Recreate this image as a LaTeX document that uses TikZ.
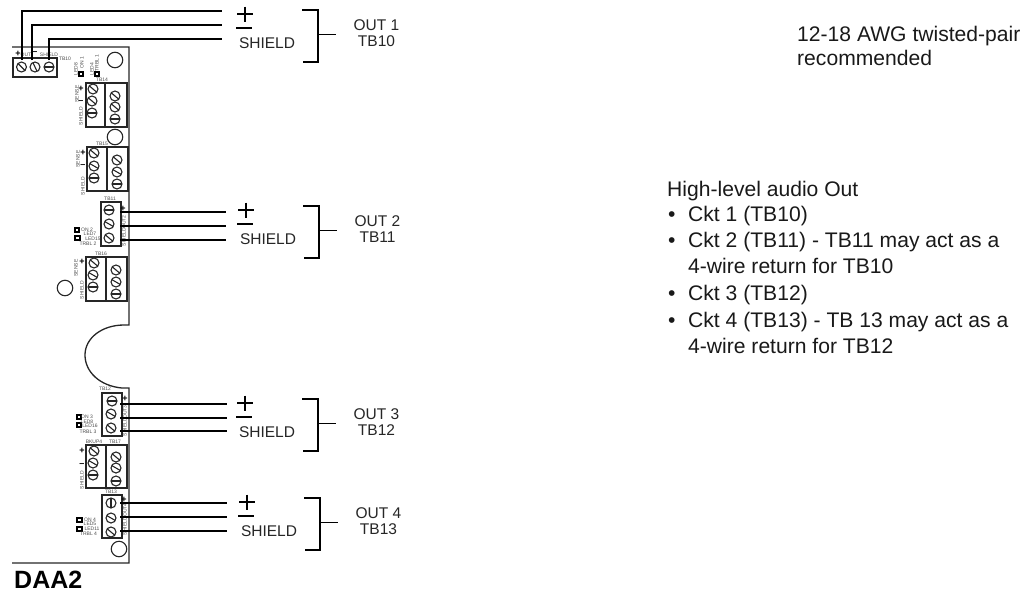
\documentclass[tikz,border=0pt]{standalone}
\usepackage{fontspec}
\setmainfont{Liberation Sans}
\usepackage{tikz}
\usetikzlibrary{calc}

\newcommand{\screw}[3]{%
  \draw[screwline] (#1,#2) circle (5);
  \draw[screwline] ($(#1,#2)+(#3:5)$) -- ($(#1,#2)+(#3+180:5)$);
}

\tikzset{
  boardline/.style={black!85, line width=1.3pt},
  blockbox/.style={draw=black!85, line width=1.5pt, inner sep=0pt},
  screwline/.style={black!85, line width=1.1pt},
  wire/.style={black, line width=2pt},
  hole/.style={draw=black!85, line width=1.1pt, circle, inner sep=0pt, minimum size=15.5pt},
  led/.style={draw=black, line width=1.6pt, inner sep=0pt, minimum size=4.5pt},
  tiny label/.style={inner sep=0pt, text=black!70, font=\fontsize{5}{5.5}\selectfont},
  out text/.style={inner sep=0pt, text=black!85, font=\fontsize{15.5}{16}\selectfont},
  note text/.style={inner sep=0pt, anchor=base west, text=black!90, font=\fontsize{21.1}{24}\selectfont},
  mark line/.style={black, line width=1.2pt},
  bracket/.style={black, line width=1.3pt},
}

\begin{document}
\begin{tikzpicture}[x=1pt, y=-1pt]
        \useasboundingbox (0,0) rectangle (1033,595);

        % board outline
        \draw[boardline] (12,47) -- (129,47) -- (129,325) -- (124,325)
            .. controls (102,325) and (85,338) .. (85,355)
            .. controls (85,372) and (100,386) .. (122,388) -- (129,388)
            -- (129,563) -- (12,563);

        % terminal blocks
        \node[blockbox, minimum width=44pt, minimum height=19pt] (tb10) at (35,67.5) {};
        \node[blockbox, minimum width=41pt, minimum height=44pt] (tb14) at (106.5,105) {};
        \node[blockbox, minimum width=41pt, minimum height=44pt] (tb15) at (107.5,169) {};
        \node[blockbox, minimum width=20pt, minimum height=44pt] (tb11) at (111,224) {};
        \node[blockbox, minimum width=41pt, minimum height=44pt] (tb16) at (106.5,279) {};
        \node[blockbox, minimum width=20pt, minimum height=43pt] (tb12) at (112,414.5) {};
        \node[blockbox, minimum width=41pt, minimum height=43pt] (tb17) at (106.5,466.5) {};
        \node[blockbox, minimum width=20pt, minimum height=43pt] (tb13) at (112,516.5) {};

        \draw[boardline] (tb14.north) ++(-1.5,0) -- ++(0,44);
        \draw[boardline] (tb15.north) ++(-0.5,0) -- ++(0,44);
        \draw[boardline] (tb16.north) ++(-0.5,0) -- ++(0,44);
        \draw[boardline] (tb17.north) ++(-0.5,0) -- ++(0,43);

        % screws
        \foreach \x/\y/\a in {21.5/67/45, 35/67/65, 49/67/0,
            93/89/40, 92/101/40, 92/113/0, 115/96/40, 115/107/40, 115/119/0,
            94/153/40, 94/166/30, 94/178/0, 117/160/40, 117/172/30, 117/184/0,
            109/210/0, 109/224/30, 109/238/40,
            94/263/40, 93/275/30, 93/287/0, 116/270/40, 116/282/30, 116/294/0,
            112/401/0, 111/414/30, 111/428/40,
            94/451/40, 93/463/30, 93/475/0, 116/457/40, 116/468/30, 116/481/0,
            111/503/90, 111/518/30, 111/532/40}
            {\screw{\x}{\y}{\a}}

        % mounting holes
        \node[hole] (hole1) at (115,60) {};
        \node[hole] (hole2) at (115,137) {};
        \node[hole] (hole3) at (65,288) {};
        \node[hole] (hole4) at (119,549) {};

        % LEDs
        \foreach \n/\x/\y in {a/81/74, b/97/74, c/77/230, d/77.5/238, e/79/417, f/79/425, g/79.5/520, h/79.5/529}
            {\node[led] (led\n) at (\x,\y) {};}

        % tiny labels
        \foreach \n/\x/\y/\t in {a/26/54.5/OUT, b/49/54.5/SHIELD, c/65/59/TB10, d/102/80/TB14, e/102/144/TB15,
            f/110/199/TB11, g/101/254/TB16, h/105/389/TB12, i/94/442/BKUP4, j/115/442/TB17, k/111/492/TB13,
            l/87/229.5/ON 2, m/90/234/LED7, n/93/238.5/LED15, o/88/244/TRBL 2,
            p/87/417/ON 3, q/87/421.5/LED8, r/90/426/LED16, s/88/431.5/TRBL 3,
            t/90/519.5/ON 4, u/90/524/LED5, v/92/528.5/LED11, w/88.5/534/TRBL 4}
            {\node[tiny label] (lab\n) at (\x,\y) {\t};}

        % rotated labels
        \foreach \n/\x/\y/\t in {a/76/69/LED8, b/82/63/ON 1, c/92/69/LED4, d/97/63/TRBL 1,
            e/77/94/SENSE, f/81/116/SHIELD, g/78/159/SENSE, h/83/186/SHIELD,
            i/124/222/OUT2, j/124/237/SHIELD, k/76/268/SENSE, l/82/290/SHIELD,
            m/125/412/OUT3, n/125/427/SHIELD, o/82/480/SHIELD,
            p/125/510/OUT4, q/125/526/SHIELD}
            {\node[tiny label, rotate=90] (rot\n) at (\x,\y) {\t};}

        % plus and minus on the board
        \foreach \n/\x/\y/\t in {a/18/54/+, b/35/53/--, c/81/89/+, d/81/102/--, e/83/153/+, f/83/166/--,
            g/123/209/+, h/82/262/+, i/125/399/+, j/82/451/+, k/82/465/--, l/124/500/+}
            {\node[inner sep=0pt, font=\bfseries\fontsize{9}{10}\selectfont] (sign\n) at (\x,\y) {\t};}

        % top wires
        \coordinate (w1a) at (22,60);  \coordinate (w1b) at (32,60);  \coordinate (w1c) at (49,60);
        \coordinate (e1a) at (222,11); \coordinate (e1b) at (222,25); \coordinate (e1c) at (222,39);
        \draw[wire] (w1a) |- (e1a);
        \draw[wire] (w1b) |- (e1b);
        \draw[wire] (w1c) |- (e1c);

        % side wires
        \foreach \n/\s/\e/\ya/\yb/\yc in {2/120/226/212/226/240, 3/120/227/404/418/431, 4/120/227/503/517/531}{
            \coordinate (w\n a) at (\s,\ya); \coordinate (e\n a) at (\e,\ya);
            \coordinate (w\n b) at (\s,\yb); \coordinate (e\n b) at (\e,\yb);
            \coordinate (w\n c) at (\s,\yc); \coordinate (e\n c) at (\e,\yc);
            \draw[wire] (w\n a) -- (e\n a);
            \draw[wire] (w\n b) -- (e\n b);
            \draw[wire] (w\n c) -- (e\n c);
        }

        % output groups
        \foreach \n/\dx/\dy/\tb in {1/0/0/TB10, 2/1/196/TB11, 3/0/389/TB12, 4/2/488/TB13}{
            \begin{scope}[shift={(\dx,\dy)}]
                \draw[mark line] (237,14) -- (253,14);
                \draw[mark line] (245,6.5) -- (245,21.5);
                \draw[mark line] (236,28) -- (252,28);
                \node[out text] (shield\n) at (267,43.5) {SHIELD};
                \coordinate (brk\n a) at (302,10);
                \coordinate (brk\n b) at (318,10);
                \coordinate (brk\n c) at (318,62);
                \coordinate (brk\n d) at (303,62);
                \coordinate (brk\n e) at (318,34.5);
                \coordinate (brk\n f) at (336,34.5);
                \draw[bracket] (brk\n a) -- (brk\n b) -- (brk\n c) -- (brk\n d);
                \draw[bracket] (brk\n e) -- (brk\n f);
                \node[out text] (out\n) at (376.5,25.5) {OUT \n};
                \node[out text] (name\n) at (376.5,41) {\tb};
            \end{scope}
        }

        % notes on the right
        \node[note text] (gauge) at (797,41) {12-18 AWG twisted-pair};
        \node[note text] (rec) at (797,65) {recommended};
        \node[note text] (audio) at (667,196) {High-level audio Out};
        \foreach \n/\y in {a/221, b/247, c/300, d/327}
            {\node[note text] (dot\n) at (668,\y) {•};}
        \node[note text] (ckta) at (688,221) {Ckt 1 (TB10)};
        \node[note text] (cktb) at (688,247) {Ckt 2 (TB11) - TB11 may act as a};
        \node[note text] (cktbb) at (688,273) {4-wire return for TB10};
        \node[note text] (cktc) at (688,300) {Ckt 3 (TB12)};
        \node[note text] (cktd) at (688,327) {Ckt 4 (TB13) - TB 13 may act as a};
        \node[note text] (cktdd) at (688,353) {4-wire return for TB12};

        % title
        \node[inner sep=0pt, anchor=base west, font=\bfseries\fontsize{25}{26}\selectfont] (daa) at (14,588) {DAA2};
\end{tikzpicture}
\end{document}
